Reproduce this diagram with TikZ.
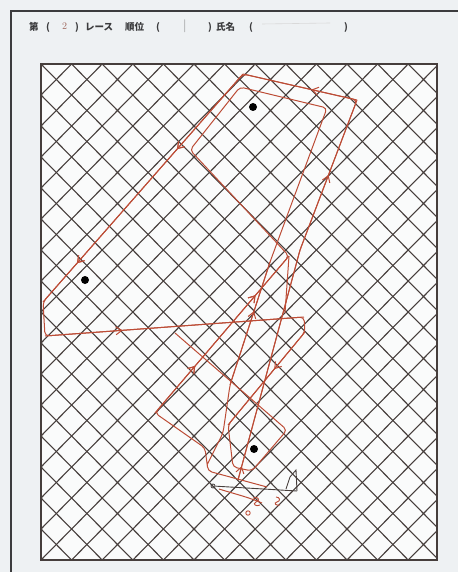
\documentclass[tikz,border=0pt]{standalone}
\usepackage{fontspec}
\newfontfamily\jp{Noto Sans CJK JP}
\usetikzlibrary{arrows.meta,decorations.markings}
\definecolor{pagebg}{RGB}{238,241,243}
\definecolor{gridc}{RGB}{70,62,60}
\definecolor{trk}{RGB}{188,76,54}
\definecolor{inkc}{RGB}{60,60,62}
\tikzset{
  trktip/.tip={Straight Barb[length=6pt,width=8pt]},
  gridline/.style={draw=gridc,line width=1.1pt},
  track/.style={draw=trk,line width=1pt,rounded corners=4pt},
  midarrow/.style={postaction=decorate,decoration={markings,mark=at position #1 with {\arrow[trk,line width=1pt]{trktip}}}},
  midarrowrev/.style={postaction=decorate,decoration={markings,mark=at position #1 with {\arrowreversed[trk,line width=1pt]{trktip}}}},
  markdot/.style={circle,fill=black,inner sep=0pt,minimum size=8pt},
  hdr/.style={font=\jp\bfseries\fontsize{9.5}{9.5}\selectfont,text=inkc,inner sep=0pt,anchor=west},
}
\begin{document}
\begin{tikzpicture}[x=1pt,y=-1pt]
\useasboundingbox (0,0) rectangle (458,572);
\fill[pagebg] (0,0) rectangle (458,572);
% outer frame
\draw[inkc,line width=2.6pt] (11,572) -- (11,11) -- (458,11);
% header
\node[hdr] (h1) at (29,27) {第};
\node[hdr] (h1b) at (46,27) {(};
\node[hdr,text=trk!50!gray,font=\fontsize{10}{10}\selectfont] (h2) at (62,26) {2};
\node[hdr] (h3) at (75,27) {)};
\node[hdr] (h3b) at (85,27) {レース};
\node[hdr] (h3c) at (125,27) {順位};
\node[hdr] (h3d) at (156,27) {(};
\node[hdr,text=gray,font=\fontsize{13}{13}\selectfont] (h4) at (183,26) {|};
\node[hdr] (h5) at (208,27) {)};
\node[hdr] (h5b) at (216,27) {氏名};
\node[hdr] (h5c) at (249,27) {(};
\node[hdr] (h6) at (344,27) {)};
\draw[gray!30,line width=0.6pt] (262,24) -- (330,23);
% grid box
\fill[white!70!pagebg] (41,64) rectangle (437,560);
\begin{scope}
\clip (41,64) rectangle (437,560);
\foreach \k in {-18,...,30}{
  \draw[gridline] ({41+30.6*\k},64) -- ({41+30.6*\k+30.6*17},{64+31*17});
  \draw[gridline] ({41+30.6*\k},64) -- ({41+30.6*\k-30.6*17},{64+31*17});
}
\end{scope}
\draw[gridc,line width=1.2pt] (41,64) rectangle (437,560);
% marks
\node[markdot] (m1) at (253,107) {};
\node[markdot] (m2) at (85,280) {};
\node[markdot] (m3) at (254,449) {};
% start line and committee boat
\node[circle,draw=gridc,line width=0.8pt,inner sep=0pt,minimum size=4pt] (s1) at (213,486) {};
\coordinate (s2) at (297,491);
\draw[gridc,line width=0.9pt] (s1) -- (s2);
\draw[gridc,line width=0.9pt] (286,489) -- (290,477) -- (296,470) -- (s2);
% ---- lap 1 track
\coordinate (a0) at (238,480);
\coordinate (a1) at (300,250);
\coordinate (a2) at (357,100);
\coordinate (a3) at (243,74);
\coordinate (a4) at (43,302);
\coordinate (a5) at (45,336);
\coordinate (a6) at (304,317);
\coordinate (a7) at (305,332);
\coordinate (a8) at (228,425);
\coordinate (a9) at (233,467);
\coordinate (a10) at (252,471);
\coordinate (a11) at (287,430);
\coordinate (a12) at (175,333);
\draw[track] (a0) -- (a1) -- (a2) -- (a3) -- (a4) -- (a5) -- (a6) -- (a7) -- (a8) -- (a9) -- (a10) -- (a11) -- (a12);
\draw[track,midarrow=0.06] (a0) -- (a1);
\draw[track,midarrow=0.5] (a1) -- (a2);
\draw[track,midarrow=0.4] (a2) -- (a3);
\draw[track,midarrow=0.33,midarrow=0.83] (a3) -- (a4);
\draw[track,midarrow=0.3] (a5) -- (a6);
\draw[track,midarrow=0.4] (a7) -- (a8);
% ---- lap 2 track
\coordinate (b0) at (207,465);
\coordinate (b1) at (223,433);
\coordinate (b2) at (230,385);
\coordinate (b3) at (270,262);
\coordinate (b4) at (327,108);
\coordinate (b5) at (240,87);
\coordinate (b6) at (190,150);
\coordinate (b7) at (289,256);
\coordinate (b7d) at (285,313);
\coordinate (b8) at (155,413);
\coordinate (b9) at (205,448);
\coordinate (b10) at (208,471);
\coordinate (b11) at (267,487);
\draw[track] (b0) -- (b1) -- (b2) -- (b3) -- (b4) -- (b5) -- (b6) -- (b7) -- (b8) -- (b9) -- (b10) -- (b11);
\draw[track] (b7) -- (b7d);
\draw[track,midarrow=0.6] (b2) -- (b3);
\draw[track,midarrowrev=0.25,midarrowrev=0.7] (b7) -- (b8);
% finish scribbles
\draw[track,rounded corners=0pt] (219,489) .. controls (235,494) and (248,497) .. (262,503);
\draw[trk,line width=0.9pt] (253,498) .. controls (258,496) and (261,500) .. (256,502) .. controls (252,504) and (256,507) .. (260,505);
\draw[trk,line width=0.9pt] (276,497) .. controls (280,497) and (281,501) .. (277,502) .. controls (273,503) and (276,506) .. (280,505);
\draw[trk,line width=0.9pt] (248,513) circle (2.2pt);
\end{tikzpicture}
\end{document}
